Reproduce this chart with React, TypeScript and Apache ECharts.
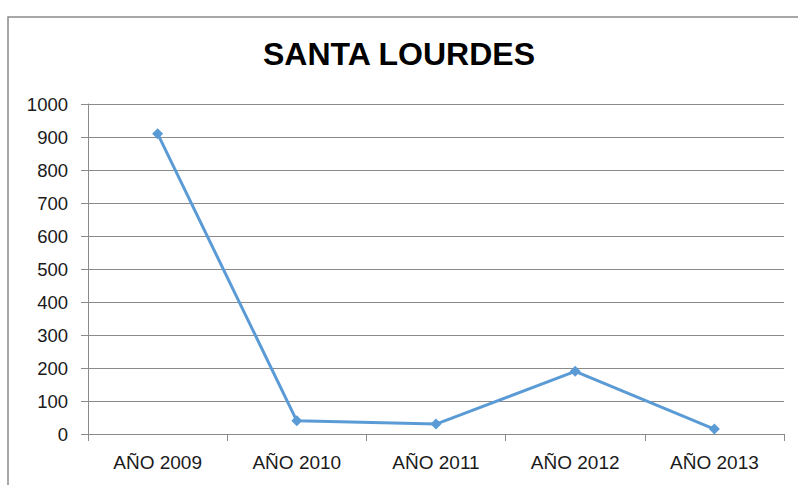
import React, { useEffect, useRef } from "react";
import * as echarts from "echarts";

const categories = ["AÑO 2009", "AÑO 2010", "AÑO 2011", "AÑO 2012", "AÑO 2013"];
const values = [910, 40, 30, 190, 15];
const titleText = "SANTA LOURDES";

export default function App() {
  const ref = useRef<HTMLDivElement>(null);
  useEffect(() => {
    if (!ref.current) return;
    const chart = echarts.init(ref.current, null, { renderer: "svg" });
    chart.setOption({
      animation: false,
      backgroundColor: "#ffffff",
      title: {
        text: titleText,
        left: "center",
        top: 33,
        textStyle: {
          fontFamily: "Liberation Sans",
          fontWeight: "bold",
          fontSize: 32,
          color: "#000000",
        },
      },
      graphic: [
        {
          type: "rect",
          shape: { x: 8, y: 17, width: 820, height: 500 },
          style: { fill: "none", stroke: "#8a8a8a", lineWidth: 1.5 },
          silent: true,
        },
      ],
      grid: { left: 88, right: 14, top: 104, bottom: 51 },
      xAxis: {
        type: "category",
        data: categories,
        boundaryGap: true,
        axisLine: { lineStyle: { color: "#8a8a8a", width: 1 } },
        axisTick: { show: true, length: 7, lineStyle: { color: "#8a8a8a" } },
        axisLabel: {
          color: "#1a1a1a",
          fontFamily: "Liberation Sans",
          fontSize: 19,
          margin: 19,
        },
      },
      yAxis: {
        type: "value",
        min: 0,
        max: 1000,
        interval: 100,
        axisLine: { show: true, lineStyle: { color: "#8a8a8a", width: 1 } },
        axisTick: { show: true, length: 7, lineStyle: { color: "#8a8a8a" } },
        splitLine: { show: true, lineStyle: { color: "#8a8a8a", width: 1 } },
        axisLabel: {
          color: "#1a1a1a",
          fontFamily: "Liberation Sans",
          fontSize: 18.5,
          margin: 20,
          formatter: (v: number) => String(v),
        },
      },
      series: [
        {
          type: "line",
          data: values,
          symbol: "diamond",
          symbolSize: 11,
          lineStyle: { color: "#5b9bd5", width: 3 },
          itemStyle: { color: "#5b9bd5" },
        },
      ],
    });
    return () => chart.dispose();
  }, []);
  return (
    <div
      ref={ref}
      style={{ position: "fixed", left: 0, top: 0, width: 798, height: 485 }}
    />
  );
}
